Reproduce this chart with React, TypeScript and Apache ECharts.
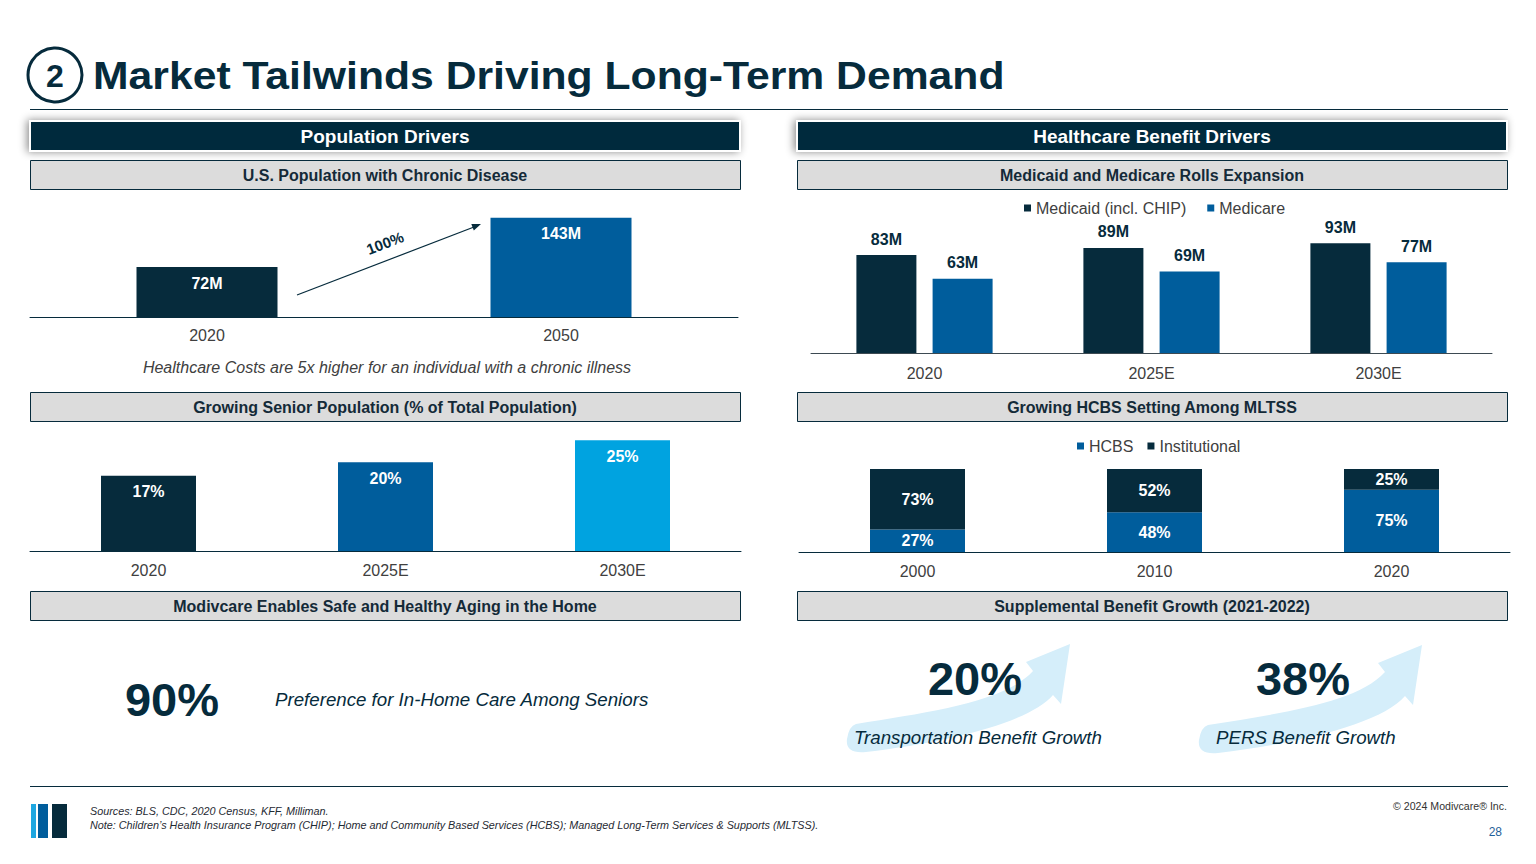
import React, { useEffect, useRef } from 'react';
import * as echarts from 'echarts';

const NAVY = '#062b3c';
const BLUE = '#005d9c';
const LIGHT = '#00a3e0';
const GRAYTXT = '#404040';
const FONT = '"Liberation Sans", Arial, sans-serif';

// ---- data ----
const chronicYears = ['2020', '2050'];
const chronicValues = [72, 143];
const chronicGrowth = '100%';

const seniorYears = ['2020', '2025E', '2030E'];
const seniorShare = [17, 20, 25];

const rollYears = ['2020', '2025E', '2030E'];
const medicaidRolls = [83, 89, 93];
const medicareRolls = [63, 69, 77];

const mltssYears = ['2000', '2010', '2020'];
const hcbsShare = [27, 48, 75];
const institutionalShare = [73, 52, 25];

const inHomePreference = '90%';
const transportationGrowth = '20%';
const persGrowth = '38%';

const ARROW_D =
  'M 856 724 C 930 712 1005 702 1033 671 L 1026 662 L 1070 644 L 1061 704 L 1053 695 ' +
  'C 1030 722 950 742 866 752 Q 845 754 847 739 Q 849 726 856 724 Z';

let registered = false;
function ensureShapes() {
  if (registered) return;
  echarts.graphic.registerShape('growthArrow', echarts.graphic.extendPath(ARROW_D, {}) as any);
  registered = true;
}

function headerBox(x: number, y: number, label: string) {
  return [
    {
      type: 'rect',
      shape: { x, y, width: 710, height: 30 },
      style: {
        fill: NAVY,
        stroke: '#ffffff',
        lineWidth: 2,
        shadowBlur: 8,
        shadowColor: 'rgba(0,0,0,0.45)',
        shadowOffsetX: -2,
        shadowOffsetY: 0,
      },
      z: 1,
    },
    {
      type: 'text',
      x: x + 355,
      y: y + 15,
      style: {
        text: label,
        fill: '#ffffff',
        fontFamily: FONT,
        fontSize: 19,
        fontWeight: 'bold',
        align: 'center',
        verticalAlign: 'middle',
      },
      z: 2,
    },
  ];
}

function subBox(x: number, y: number, label: string) {
  return [
    {
      type: 'rect',
      shape: { x: x + 0.5, y: y + 0.5, width: 710, height: 29 },
      style: { fill: '#dcdcdc', stroke: NAVY, lineWidth: 1 },
      z: 1,
    },
    {
      type: 'text',
      x: x + 355,
      y: y + 15,
      style: {
        text: label,
        fill: '#142a38',
        fontFamily: FONT,
        fontSize: 16,
        fontWeight: 'bold',
        align: 'center',
        verticalAlign: 'middle',
      },
      z: 2,
    },
  ];
}

function txt(x: number, y: number, text: string, opts: any = {}) {
  return {
    type: 'text',
    x,
    y,
    scaleX: opts.scaleX || 1,
    style: {
      text,
      fill: opts.fill || NAVY,
      fontFamily: FONT,
      fontSize: opts.fontSize || 15,
      fontWeight: opts.fontWeight || 'normal',
      fontStyle: opts.fontStyle || 'normal',
      align: opts.align || 'left',
      verticalAlign: 'middle',
    },
    z: opts.z || 5,
  };
}

function catAxis(gridIndex: number, data: string[], margin: number, lineColor: string) {
  return {
    type: 'category',
    gridIndex,
    data,
    axisTick: { show: false },
    axisLine: { show: true, lineStyle: { color: lineColor, width: 1 } },
    axisLabel: { color: GRAYTXT, fontSize: 16, fontFamily: FONT, margin },
  };
}

function valAxis(gridIndex: number, max: number) {
  return { type: 'value', gridIndex, min: 0, max, show: false, splitLine: { show: false } };
}

export default function App() {
  const ref = useRef<HTMLDivElement>(null);

  useEffect(() => {
    if (!ref.current) return;
    ensureShapes();
    const chart = echarts.init(ref.current, null, { renderer: 'svg' });

    const whiteLabel = (suffix: string, pos: string) => ({
      show: true,
      position: pos,
      distance: 8,
      formatter: (p: any) => `${p.value}${suffix}`,
      color: '#ffffff',
      fontWeight: 'bold',
      fontSize: 16,
      fontFamily: FONT,
    });

    const option: any = {
      animation: false,
      backgroundColor: '#ffffff',
      textStyle: { fontFamily: FONT },
      grid: [
        { left: 30, top: 199, width: 708, height: 118 },
        { left: 30, top: 418, width: 711, height: 133 },
        { left: 811, top: 235, width: 681, height: 118 },
        { left: 799, top: 469, width: 711, height: 83 },
      ],
      xAxis: [
        catAxis(0, chronicYears, 10, NAVY),
        catAxis(1, seniorYears, 11, NAVY),
        catAxis(2, rollYears, 12, '#3d4a52'),
        catAxis(3, mltssYears, 11, NAVY),
      ],
      yAxis: [valAxis(0, 170), valAxis(1, 30), valAxis(2, 100), valAxis(3, 100)],
      legend: [
        {
          data: ['Medicaid (incl. CHIP)', 'Medicare'],
          left: 1024,
          top: 200,
          icon: 'rect',
          itemWidth: 7,
          itemHeight: 7,
          itemGap: 21,
          padding: 0,
          selectedMode: false,
          textStyle: { fontSize: 16, color: GRAYTXT, fontFamily: FONT },
        },
        {
          data: ['HCBS', 'Institutional'],
          left: 1077,
          top: 438,
          icon: 'rect',
          itemWidth: 7,
          itemHeight: 7,
          itemGap: 14,
          padding: 0,
          selectedMode: false,
          textStyle: { fontSize: 16, color: GRAYTXT, fontFamily: FONT },
        },
      ],
      series: [
        {
          type: 'bar',
          name: 'Chronic',
          xAxisIndex: 0,
          yAxisIndex: 0,
          barWidth: 141,
          data: chronicValues.map((v, i) => ({ value: v, itemStyle: { color: [NAVY, BLUE][i] } })),
          label: whiteLabel('M', 'insideTop'),
        },
        {
          type: 'bar',
          name: 'Senior',
          xAxisIndex: 1,
          yAxisIndex: 1,
          barWidth: 95,
          data: seniorShare.map((v, i) => ({ value: v, itemStyle: { color: [NAVY, BLUE, LIGHT][i] } })),
          label: whiteLabel('%', 'insideTop'),
        },
        {
          type: 'bar',
          name: 'Medicaid (incl. CHIP)',
          xAxisIndex: 2,
          yAxisIndex: 2,
          barWidth: 60,
          barGap: '27%',
          itemStyle: { color: NAVY },
          data: medicaidRolls,
          label: { ...whiteLabel('M', 'top'), color: NAVY },
        },
        {
          type: 'bar',
          name: 'Medicare',
          xAxisIndex: 2,
          yAxisIndex: 2,
          barWidth: 60,
          barGap: '27%',
          itemStyle: { color: BLUE },
          data: medicareRolls,
          label: { ...whiteLabel('M', 'top'), color: NAVY },
        },
        {
          type: 'bar',
          name: 'HCBS',
          xAxisIndex: 3,
          yAxisIndex: 3,
          stack: 'mltss',
          barWidth: 95,
          itemStyle: { color: BLUE },
          data: hcbsShare,
          label: whiteLabel('%', 'inside'),
        },
        {
          type: 'bar',
          name: 'Institutional',
          xAxisIndex: 3,
          yAxisIndex: 3,
          stack: 'mltss',
          barWidth: 95,
          itemStyle: { color: NAVY },
          data: institutionalShare,
          label: whiteLabel('%', 'inside'),
        },
      ],
      graphic: [
        // title
        {
          type: 'circle',
          shape: { cx: 55, cy: 75, r: 27 },
          style: { fill: 'none', stroke: NAVY, lineWidth: 3 },
        },
        txt(55, 76, '2', { fontSize: 32, fontWeight: 'bold', align: 'center' }),
        txt(93, 76, 'Market Tailwinds Driving Long-Term Demand', {
          fontSize: 39,
          fontWeight: 'bold',
          scaleX: 1.095,
        }),
        {
          type: 'line',
          shape: { x1: 30, y1: 109.5, x2: 1508, y2: 109.5 },
          style: { stroke: NAVY, lineWidth: 1 },
        },
        ...headerBox(30, 121, 'Population Drivers'),
        ...headerBox(797, 121, 'Healthcare Benefit Drivers'),
        ...subBox(30, 160, 'U.S. Population with Chronic Disease'),
        ...subBox(797, 160, 'Medicaid and Medicare Rolls Expansion'),
        ...subBox(30, 392, 'Growing Senior Population (% of Total Population)'),
        ...subBox(797, 392, 'Growing HCBS Setting Among MLTSS'),
        ...subBox(30, 591, 'Modivcare Enables Safe and Healthy Aging in the Home'),
        ...subBox(797, 591, 'Supplemental Benefit Growth (2021-2022)'),
        // growth arrow on chronic chart
        {
          type: 'polyline',
          shape: { points: [[297, 295], [474, 227]] },
          style: { stroke: NAVY, lineWidth: 1.2, fill: 'none' },
        },
        {
          type: 'polygon',
          shape: { points: [[481, 224], [473.8, 230.5], [471.3, 223.9]] },
          style: { fill: NAVY },
        },
        {
          type: 'text',
          x: 385,
          y: 243,
          rotation: 0.365,
          style: {
            text: chronicGrowth,
            fill: NAVY,
            fontFamily: FONT,
            fontSize: 15,
            fontWeight: 'bold',
            align: 'center',
            verticalAlign: 'middle',
          },
        },
        txt(387, 367, 'Healthcare Costs are 5x higher for an individual with a chronic illness', {
          fontSize: 16,
          fontStyle: 'italic',
          fill: GRAYTXT,
          align: 'center',
        }),
        // aging at home
        txt(172, 699, inHomePreference, { fontSize: 47, fontWeight: 'bold', align: 'center' }),
        txt(275, 699, 'Preference for In-Home Care Among Seniors', { fontSize: 18.7, fontStyle: 'italic' }),
        // supplemental benefit arrows
        { type: 'growthArrow', x: 0, y: 0, style: { fill: '#d5eefa' }, z: 3 },
        { type: 'growthArrow', x: 352, y: 1, style: { fill: '#d5eefa' }, z: 3 },
        txt(975, 678, transportationGrowth, { fontSize: 47, fontWeight: 'bold', align: 'center' }),
        txt(854, 737, 'Transportation Benefit Growth', { fontSize: 18.7, fontStyle: 'italic' }),
        txt(1303, 678, persGrowth, { fontSize: 47, fontWeight: 'bold', align: 'center' }),
        txt(1216, 737, 'PERS Benefit Growth', { fontSize: 18.7, fontStyle: 'italic' }),
        // footer
        {
          type: 'line',
          shape: { x1: 30, y1: 786.5, x2: 1508, y2: 786.5 },
          style: { stroke: NAVY, lineWidth: 1 },
        },
        { type: 'rect', shape: { x: 31, y: 804, width: 5, height: 34 }, style: { fill: '#1ea7e1' } },
        { type: 'rect', shape: { x: 38, y: 804, width: 10, height: 34 }, style: { fill: BLUE } },
        { type: 'rect', shape: { x: 52, y: 804, width: 15, height: 34 }, style: { fill: NAVY } },
        txt(90, 811, 'Sources: BLS, CDC, 2020 Census, KFF, Milliman.', {
          fontSize: 10.8,
          fontStyle: 'italic',
          fill: '#1f2a33',
        }),
        txt(
          90,
          825,
          'Note: Children\u2019s Health Insurance Program (CHIP); Home and Community Based Services (HCBS); Managed Long-Term Services & Supports (MLTSS).',
          { fontSize: 10.8, fontStyle: 'italic', fill: '#1f2a33' }
        ),
        txt(1507, 806, '\u00a9 2024 Modivcare\u00ae Inc.', { fontSize: 10.6, fill: '#333333', align: 'right' }),
        txt(1502, 832, '28', { fontSize: 12, fill: '#1f5f99', align: 'right' }),
      ],
    };

    chart.setOption(option);
    return () => {
      chart.dispose();
    };
  }, []);

  return (
    <div
      ref={ref}
      style={{ position: 'absolute', left: 0, top: 0, width: 1536, height: 864, background: '#fff' }}
    />
  );
}
